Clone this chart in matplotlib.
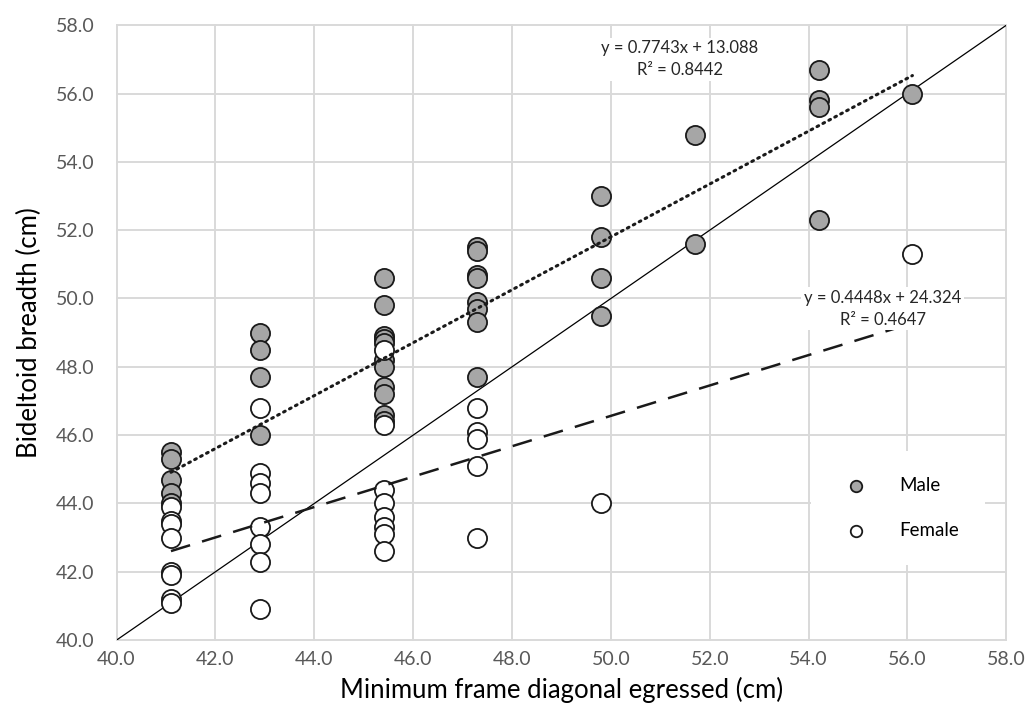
import numpy as np
import matplotlib.pyplot as plt

plt.rcParams['font.family'] = ['Lato', 'DejaVu Sans']

# male data (x = min frame diagonal, y = bideltoid breadth)
male_x = [41.1] * 5 + [42.9] * 4 + [45.4] * 11 + [47.3] * 8 + [49.8] * 4 + [51.7] * 2 + [54.2] * 4 + [56.1]
male_y = [45.5, 45.3, 44.7, 44.3, 44.0,
          49.0, 48.5, 47.7, 46.0,
          50.6, 49.8, 48.9, 48.8, 48.7, 48.2, 48.0, 47.4, 47.2, 46.6, 46.4,
          51.5, 51.4, 50.7, 50.6, 49.9, 49.7, 49.3, 47.7,
          53.0, 51.8, 50.6, 49.5,
          54.8, 51.6,
          56.7, 55.8, 55.6, 52.3,
          56.0]

female_x = [41.1] * 8 + [42.9] * 8 + [45.4] * 8 + [47.3] * 5 + [49.8] + [56.1]
female_y = [43.9, 43.5, 43.4, 43.0, 42.0, 41.9, 41.2, 41.1,
            46.8, 44.9, 44.6, 44.3, 43.3, 42.8, 42.3, 40.9,
            48.5, 46.3, 44.4, 44.0, 43.6, 43.3, 43.1, 42.6,
            46.8, 46.1, 45.9, 45.1, 43.0,
            44.0,
            51.3]

male_fit = (0.7743, 13.088)
female_fit = (0.4448, 24.324)
ticks = np.arange(40, 58.1, 2)

fig = plt.figure(figsize=(10.29, 7.2), dpi=100)
ax = fig.add_axes([0.1133, 0.111, 0.8647, 0.854])

ax.set_xlim(40, 58)
ax.set_ylim(40, 58)
ax.set_xticks(ticks)
ax.set_yticks(ticks)
ax.set_xticklabels([f'{t:.1f}' for t in ticks])
ax.set_yticklabels([f'{t:.1f}' for t in ticks])
ax.tick_params(length=0, labelsize=14, labelcolor='#595959')
ax.tick_params(axis='x', pad=8)
ax.tick_params(axis='y', pad=16)

# grid incl. border lines
for t in ticks:
    ax.axvline(t, color='#d9d9d9', lw=1.4, zorder=0, clip_on=False)
    ax.axhline(t, color='#d9d9d9', lw=1.4, zorder=0, clip_on=False)
for s in ax.spines.values():
    s.set_visible(False)

# line of identity
ax.plot([40, 58], [40, 58], color='black', lw=0.9, zorder=1)

xx = np.array([41.1, 56.1])
ax.plot(xx, male_fit[0] * xx + male_fit[1], color='#1a1a1a', lw=2.2,
        linestyle=(0, (0.6, 1.6)), dash_capstyle='round', zorder=4)
ax.plot(xx, female_fit[0] * xx + female_fit[1], color='#1a1a1a', lw=1.8,
        linestyle=(0, (8, 5)), zorder=4)

ax.scatter(male_x, male_y, s=190, facecolor='#a6a6a6', edgecolor='#1a1a1a',
           linewidth=1.3, zorder=3, label='Male')
ax.scatter(female_x, female_y, s=190, facecolor='white', edgecolor='#1a1a1a',
           linewidth=1.3, zorder=3, label='Female')

ax.text(51.4, 57.0, 'y = 0.7743x + 13.088\nR² = 0.8442', ha='center', va='center',
        fontsize=12, linespacing=1.45, color='#262626', zorder=5,
        bbox=dict(facecolor='white', edgecolor='none', pad=2))
ax.text(55.5, 49.7, 'y = 0.4448x + 24.324\nR² = 0.4647', ha='center', va='center',
        fontsize=12, linespacing=1.45, color='#262626', zorder=5,
        bbox=dict(facecolor='white', edgecolor='none', pad=2))

leg = ax.legend(loc='center', bbox_to_anchor=(0.878, 0.215), frameon=True,
                fontsize=13.5, markerscale=0.6, handletextpad=1.3,
                labelspacing=1.5, borderpad=1.4, borderaxespad=0)
leg.get_frame().set_edgecolor('none')
leg.get_frame().set_facecolor('white')
leg.get_frame().set_alpha(1)
leg.set_zorder(6)

ax.set_xlabel('Minimum frame diagonal egressed (cm)', fontsize=18.5, labelpad=6)
ax.set_ylabel('Bideltoid breadth (cm)', fontsize=18.5, labelpad=10)

fig.savefig('out.png', dpi=100)
